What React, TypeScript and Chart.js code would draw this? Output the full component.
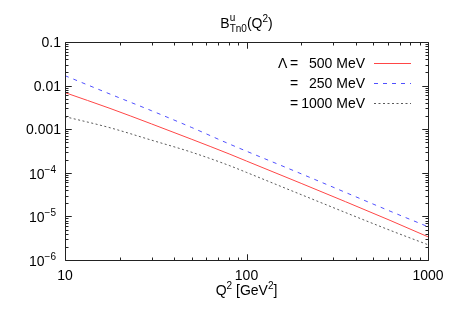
import React, { useEffect, useRef } from "react";
import { Chart, registerables } from "chart.js";

Chart.register(...registerables);

const q2Values = [10, 17.7, 30, 50, 81, 100, 200, 618, 1000];
const lambda500 = [6.9e-3, 3.0e-3, 1.32e-3, 5.85e-4, 2.67e-4, 1.86e-4, 5.73e-5, 8.1e-6, 3.4e-6];
const lambda250 = [1.69e-2, 6.4e-3, 2.65e-3, 1.09e-3, 4.52e-4, 3.13e-4, 9.5e-5, 1.32e-5, 5.8e-6];
const lambda1000 = [1.94e-3, 1.08e-3, 5.6e-4, 2.95e-4, 1.45e-4, 1.02e-4, 3.16e-5, 4.8e-6, 2.24e-6];

const legendLabels = ["500 MeV", "250 MeV", "1000 MeV"];
const xMajorTicks = [10, 100, 1000];
const yMajorTicks = [1e-6, 1e-5, 1e-4, 1e-3, 1e-2, 1e-1];
const yTickLabels = ["10|−6", "10|−5", "10|−4", "0.001", "0.01", "0.1"];

const FONT = '"Liberation Sans", Arial, sans-serif';

type Seg = { t: string; s: number; dy: number };

function segWidth(ctx: CanvasRenderingContext2D, segs: Seg[]) {
  let w = 0;
  for (const sg of segs) {
    ctx.font = `${sg.s}px ${FONT}`;
    w += ctx.measureText(sg.t).width;
  }
  return w;
}

function drawSegs(ctx: CanvasRenderingContext2D, segs: Seg[], x: number, y: number, align: "left" | "center" | "right") {
  const w = segWidth(ctx, segs);
  let cx = align === "left" ? x : align === "center" ? x - w / 2 : x - w;
  ctx.textAlign = "left";
  for (const sg of segs) {
    ctx.font = `${sg.s}px ${FONT}`;
    ctx.fillText(sg.t, cx, y + sg.dy);
    cx += ctx.measureText(sg.t).width;
  }
}

const decorPlugin = {
  id: "decor",
  afterDraw(chart: any) {
    const ctx: CanvasRenderingContext2D = chart.ctx;
    const xs = chart.scales.x;
    const ys = chart.scales.y;
    const a = chart.chartArea;
    const L = Math.round(a.left) + 0.5;
    const R = Math.round(a.right) + 0.5;
    const T = Math.round(a.top) + 0.5;
    const B = Math.round(a.bottom) + 0.5;
    ctx.save();
    ctx.strokeStyle = "#222";
    ctx.lineWidth = 1;
    ctx.setLineDash([]);
    ctx.beginPath();
    const xDecades = [10, 100];
    for (const d of xDecades) {
      for (let m = 1; m <= 10; m++) {
        const v = d * m;
        const px = Math.round(xs.getPixelForValue(v)) + 0.5;
        const len = m === 1 || m === 10 ? 6 : 3;
        ctx.moveTo(px, B);
        ctx.lineTo(px, B - len);
        ctx.moveTo(px, T);
        ctx.lineTo(px, T + len);
      }
    }
    for (let e = -6; e < -1; e++) {
      for (let m = 1; m <= 10; m++) {
        const v = m * Math.pow(10, e);
        const py = Math.round(ys.getPixelForValue(v)) + 0.5;
        const len = m === 1 || m === 10 ? 6 : 3;
        ctx.moveTo(L, py);
        ctx.lineTo(L + len, py);
        ctx.moveTo(R, py);
        ctx.lineTo(R - len, py);
      }
    }
    ctx.stroke();
    ctx.beginPath();
    ctx.rect(L, T, R - L, B - T);
    ctx.stroke();

    ctx.fillStyle = "#000";
    ctx.textBaseline = "alphabetic";
    for (const v of xMajorTicks) {
      const px = xs.getPixelForValue(v);
      drawSegs(ctx, [{ t: String(v), s: 14, dy: 0 }], px, a.bottom + 20, "center");
    }
    yMajorTicks.forEach((v, i) => {
      const py = ys.getPixelForValue(v);
      const lab = yTickLabels[i];
      if (lab.includes("|")) {
        const [base, exp] = lab.split("|");
        drawSegs(ctx, [
          { t: base, s: 14, dy: 0 },
          { t: exp, s: 10, dy: -6 },
        ], 56, py + 6, "right");
      } else {
        drawSegs(ctx, [{ t: lab, s: 14, dy: 0 }], 61, py + 5, "right");
      }
    });
    drawSegs(ctx, [
      { t: "Q", s: 14, dy: 0 },
      { t: "2", s: 10, dy: -6 },
      { t: " [GeV", s: 14, dy: 0 },
      { t: "2", s: 10, dy: -6 },
      { t: "]", s: 14, dy: 0 },
    ], (a.left + a.right) / 2, a.bottom + 35, "center");

    ctx.font = `14px ${FONT}`;
    const wB = ctx.measureText("B").width;
    ctx.font = `10px ${FONT}`;
    const wU = ctx.measureText("u").width;
    const wT = ctx.measureText("Tn0").width;
    const stackW = Math.max(wU, wT);
    const rest: Seg[] = [
      { t: "(Q", s: 14, dy: 0 },
      { t: "2", s: 10, dy: -6 },
      { t: ")", s: 14, dy: 0 },
    ];
    const total = wB + stackW + segWidth(ctx, rest);
    let tx = (a.left + a.right) / 2 - total / 2;
    const ty = 28;
    ctx.textAlign = "left";
    ctx.font = `14px ${FONT}`;
    ctx.fillText("B", tx, ty);
    tx += wB;
    ctx.font = `10px ${FONT}`;
    ctx.fillText("u", tx, ty - 7);
    ctx.fillText("Tn0", tx, ty + 4);
    tx += stackW;
    drawSegs(ctx, rest, tx, ty, "left");

    const rowY = [63, 83, 103];
    const ds = chart.data.datasets;
    for (let i = 0; i < 3; i++) {
      const y = rowY[i];
      ctx.fillStyle = "#000";
      drawSegs(ctx, [{ t: legendLabels[i], s: 14, dy: 0 }], 365, y + 5, "right");
      drawSegs(ctx, [{ t: "=", s: 14, dy: 0 }], 290, y + 5, "left");
      if (i === 0) drawSegs(ctx, [{ t: "Λ", s: 14, dy: 0 }], 278, y + 5, "left");
      ctx.beginPath();
      ctx.strokeStyle = ds[i].borderColor;
      ctx.lineWidth = ds[i].borderWidth;
      ctx.setLineDash(ds[i].borderDash || []);
      ctx.moveTo(374, y + 0.5);
      ctx.lineTo(411, y + 0.5);
      ctx.stroke();
    }
    ctx.restore();
  },
};

export default function App() {
  const ref = useRef<HTMLCanvasElement | null>(null);
  useEffect(() => {
    if (!ref.current) return;
    const mk = (vals: number[]) => q2Values.map((x, i) => ({ x, y: vals[i] }));
    const chart = new Chart(ref.current, {
      type: "line",
      data: {
        datasets: [
          {
            label: "500 MeV",
            data: mk(lambda500),
            borderColor: "rgb(255,70,70)",
            borderWidth: 1,
            pointRadius: 0,
            cubicInterpolationMode: "monotone",
          },
          {
            label: "250 MeV",
            data: mk(lambda250),
            borderColor: "rgb(80,80,255)",
            borderWidth: 1,
            borderDash: [4, 5],
            pointRadius: 0,
            cubicInterpolationMode: "monotone",
          },
          {
            label: "1000 MeV",
            data: mk(lambda1000),
            borderColor: "rgba(0,0,0,0.65)",
            borderWidth: 1,
            borderDash: [2, 2.5],
            pointRadius: 0,
            cubicInterpolationMode: "monotone",
          },
        ],
      } as any,
      options: {
        animation: false,
        responsive: false,
        devicePixelRatio: 1,
        layout: { padding: { left: 65, top: 42, right: 23, bottom: 56 } },
        plugins: { legend: { display: false }, tooltip: { enabled: false }, title: { display: false } },
        scales: {
          x: { type: "logarithmic", min: 10, max: 1000, display: false },
          y: { type: "logarithmic", min: 1e-6, max: 0.1, display: false },
        },
      } as any,
      plugins: [decorPlugin],
    });
    return () => chart.destroy();
  }, []);
  return (
    <div style={{ position: "absolute", left: 0, top: 0, width: 451, height: 316, background: "#fff" }}>
      <canvas ref={ref} width={451} height={316} style={{ width: 451, height: 316 }} />
    </div>
  );
}
